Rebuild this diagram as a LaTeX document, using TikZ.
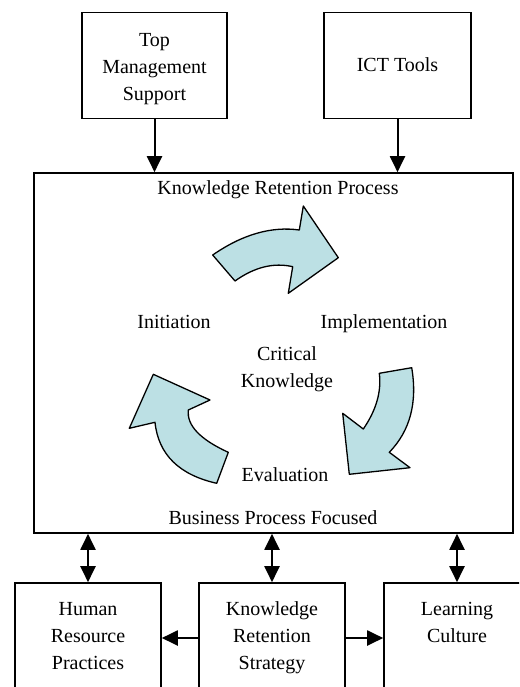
\documentclass[tikz,border=0pt]{standalone}
\usepackage{fontspec}
\setmainfont{Liberation Serif}
\usetikzlibrary{arrows.meta}
\definecolor{cyclr}{RGB}{188,224,228}
\begin{document}
\begin{tikzpicture}[x=1pt,y=-1pt,
  box/.style={draw,line width=1.6pt,inner sep=0pt},
  lbl/.style={font=\fontsize{20}{27}\selectfont,align=center,inner sep=0pt,anchor=base},
  conn/.style={line width=2pt,-{Triangle[width=15pt,length=16pt]}},
  dconn/.style={line width=2pt,{Triangle[width=15pt,length=16pt]}-{Triangle[width=15pt,length=16pt]}},
  cycarrow/.style={fill=cyclr,draw,line width=1.3pt,line join=round}]
\useasboundingbox (0,0) rectangle (519,687);
\clip (0,0) rectangle (519,687);
% boxes
\node[box,minimum width=145pt,minimum height=106pt] (tms) at (154.5,65.5) {};
\node[box,minimum width=147pt,minimum height=106pt] (ict) at (397.5,65.5) {};
\node[box,minimum width=479pt,minimum height=360pt] (krp) at (273.5,353) {};
\node[box,minimum width=146pt,minimum height=110pt] (hrp) at (88,638) {};
\node[box,minimum width=146pt,minimum height=110pt] (krs) at (272,638) {};
\node[box,minimum width=146pt,minimum height=110pt] (lc) at (457,638) {};
% labels
\node[lbl] (t1) at (154.5,100.5) {Top\\Management\\Support};
\node[lbl] (t2) at (397.5,71.7) {ICT Tools};
\node[lbl] (t3) at (278,194) {Knowledge Retention Process};
\node[lbl] (t4) at (174,328) {Initiation};
\node[lbl] (t5) at (384,328) {Implementation};
\node[lbl] (t6) at (287,387) {Critical\\Knowledge};
\node[lbl] (t7) at (285,481.7) {Evaluation};
\node[lbl] (t8) at (273,524.3) {Business Process Focused};
\node[lbl] (t9) at (88,669.5) {Human\\Resource\\Practices};
\node[lbl] (t10) at (272,669.5) {Knowledge\\Retention\\Strategy};
\node[lbl] (t11) at (457,642.7) {Learning\\Culture};
% cycle arrows
\path[cycarrow] (212.7,255) .. controls (242.5,234.4) and (271.4,226.1) .. (299.3,230) -- (303.3,206) -- (338.3,257.7)
  -- (288.3,293.3) -- (292.7,266.7) .. controls (273.7,262.3) and (254.4,267.1) .. (235,281) -- cycle;
\path[cycarrow] (411.7,367.7) .. controls (417.6,402.6) and (410.1,430.8) .. (389.3,452.3) -- (410,467.7) -- (349.3,474.3)
  -- (342.7,413.3) -- (363.3,429) .. controls (376.2,410.2) and (381.6,391.7) .. (379.3,373.3) -- cycle;
\path[cycarrow] (216.7,483.3) .. controls (179,474.8) and (158.4,454.5) .. (155,422.3) -- (129.3,428.3) -- (153.3,374.3)
  -- (210,400) -- (188.3,410) .. controls (186.6,425.2) and (199.9,439.4) .. (228.3,452.3) -- cycle;
% connectors
\draw[conn] (tms.south) -- (tms.south |- krp.north);
\draw[conn] (ict.south) -- (ict.south |- krp.north);
\draw[dconn] (krp.south -| hrp.north) -- (hrp.north);
\draw[dconn] (krp.south -| krs.north) -- (krs.north);
\draw[dconn] (krp.south -| lc.north) -- (lc.north);
\draw[conn] (krs.west) -- (hrp.east);
\draw[conn] (krs.east) -- (lc.west);
\end{tikzpicture}
\end{document}
